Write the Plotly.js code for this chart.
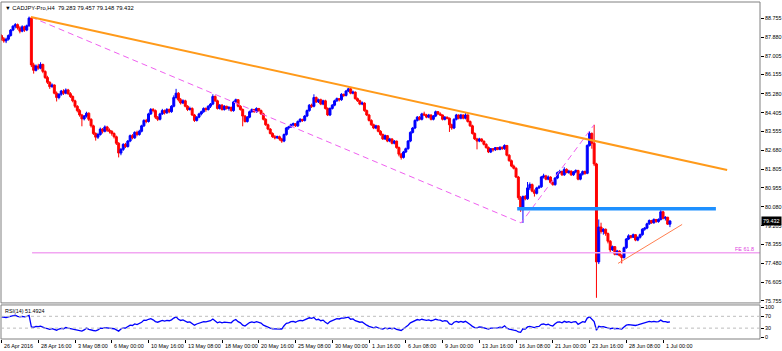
<!DOCTYPE html>
<html><head><meta charset="utf-8">
<script src="https://cdn.plot.ly/plotly-3.0.1.min.js"></script>
<style>html,body{margin:0;padding:0;background:#fff}#chart{width:782px;height:351px}</style>
</head><body><div id="chart"></div>
<script>
const symbolTitle = '\u25BC CADJPY-Pro,H4  79.283 79.457 79.148 79.432';
const rsiTitle = 'RSI(14) 51.4924';

const open = [
87.95,87.80,87.70,87.78,87.95,88.20,88.38,88.45,88.30,88.15,
88.35,88.20,88.40,88.75,86.60,86.35,86.55,86.45,86.62,86.30,
86.02,85.80,85.60,85.68,85.30,85.10,85.25,85.40,85.30,85.45,
85.28,85.15,84.95,84.70,84.50,84.30,84.12,84.25,84.38,84.10,
83.80,83.45,83.28,83.40,83.65,83.55,83.75,83.60,83.55,83.45,
83.30,83.00,82.55,82.72,82.95,82.85,83.10,83.35,83.25,83.50,
83.40,83.55,83.80,84.05,84.00,84.35,84.55,84.50,84.20,84.10,
84.35,84.50,84.40,84.55,84.45,84.70,85.10,85.30,85.00,84.85,
84.95,84.70,84.55,84.60,84.30,84.05,84.20,84.35,84.45,84.60,
84.55,84.70,84.80,85.15,84.95,84.60,84.75,84.55,84.70,84.60,
84.65,84.50,84.90,85.00,84.70,84.55,84.25,84.00,84.20,84.45,
84.55,84.45,84.60,84.50,84.35,84.10,83.85,83.65,83.45,83.30,
83.25,83.30,83.20,83.10,83.40,83.70,83.75,83.85,83.90,83.80,
84.00,84.10,84.05,84.25,84.50,84.75,84.70,85.10,84.90,85.00,
84.80,84.95,84.60,84.30,84.60,84.75,84.95,85.05,85.00,85.25,
85.20,85.40,85.50,85.30,85.35,85.05,84.95,84.80,84.85,84.50,
84.30,84.05,83.85,83.70,83.80,83.55,83.40,83.20,83.35,83.10,
83.20,83.00,83.10,82.80,82.50,82.35,82.60,82.75,83.10,83.50,
83.70,84.05,84.20,84.10,84.35,84.30,84.20,84.30,84.10,84.25,
84.45,84.35,84.30,84.10,84.20,84.15,83.85,83.70,84.10,84.30,
84.15,84.30,84.15,84.30,84.00,83.80,83.45,83.20,83.10,83.20,
83.10,82.95,82.80,82.60,82.75,82.70,82.80,82.72,82.82,82.75,
82.90,82.45,82.20,81.95,81.85,81.45,80.50,79.95,80.55,80.45,
80.95,81.10,80.80,80.70,80.95,81.00,81.45,81.50,81.35,81.45,
81.20,81.10,81.40,81.65,81.70,81.55,81.80,81.65,81.72,81.55,
81.68,81.75,81.35,81.58,81.70,81.62,82.90,83.45,83.00,82.05,
77.55,79.15,78.95,79.05,78.85,78.50,78.10,78.25,77.90,78.05,
77.85,77.75,78.20,78.60,78.75,78.68,78.80,78.55,78.68,78.80,
79.05,79.10,79.30,79.45,79.35,79.50,79.40,79.50,79.85,79.55,
79.60,79.283];

const high = [
88.00,87.88,87.85,88.00,88.25,88.42,88.52,88.50,88.38,88.42,
88.40,88.45,88.82,88.80,86.70,86.62,86.65,86.72,86.66,86.35,
86.10,85.85,85.75,85.70,85.38,85.30,85.45,85.48,85.52,85.50,
85.35,85.20,85.00,84.75,84.58,84.35,84.30,84.45,84.42,84.15,
83.85,83.50,83.48,83.72,83.70,83.82,83.80,83.68,83.60,83.50,
83.35,83.05,82.78,83.00,83.02,83.15,83.40,83.42,83.55,83.58,
83.62,83.85,84.10,84.12,84.40,84.62,84.62,84.55,84.25,84.40,
84.58,84.55,84.62,84.60,84.75,85.20,85.50,85.35,85.08,85.02,
85.00,84.75,84.68,84.65,84.35,84.25,84.40,84.50,84.65,84.65,
84.75,84.85,85.25,85.20,85.00,84.80,84.80,84.75,84.72,84.70,
84.68,84.95,85.05,85.02,84.75,84.60,84.30,84.25,84.50,84.60,
84.58,84.65,84.62,84.55,84.40,84.15,83.90,83.70,83.50,83.38,
83.35,83.35,83.25,83.45,83.75,83.80,83.90,83.95,83.92,84.05,
84.15,84.12,84.30,84.55,84.80,84.82,85.25,85.15,85.05,85.05,
85.00,85.00,84.65,84.65,84.80,85.00,85.10,85.08,85.30,85.28,
85.45,85.55,85.55,85.42,85.38,85.10,85.00,84.92,84.88,84.55,
84.35,84.10,83.90,83.85,83.82,83.60,83.45,83.40,83.38,83.25,
83.22,83.15,83.12,82.85,82.55,82.65,82.80,83.15,83.55,83.75,
84.10,84.25,84.25,84.40,84.45,84.35,84.35,84.32,84.30,84.50,
84.48,84.42,84.32,84.25,84.22,84.18,83.90,84.15,84.35,84.32,
84.35,84.32,84.38,84.32,84.05,83.85,83.50,83.25,83.25,83.22,
83.12,83.00,82.85,82.78,82.78,82.82,82.82,82.85,82.84,82.95,
82.92,82.50,82.25,82.02,81.90,81.50,80.58,80.60,80.62,81.22,
81.20,81.15,80.88,81.00,81.08,81.50,81.60,81.55,81.52,81.48,
81.25,81.45,81.70,81.78,81.75,81.90,81.85,81.78,81.75,81.72,
81.80,81.78,81.62,81.75,81.75,82.95,83.55,83.50,83.85,82.10,
79.50,79.35,79.10,79.08,78.90,78.55,78.30,78.28,78.10,78.08,
77.90,78.25,78.65,78.82,78.78,78.85,78.82,78.72,78.85,79.10,
79.15,79.35,79.50,79.48,79.55,79.52,79.55,79.98,79.90,79.65,
79.62,79.457];

const low = [
87.72,87.62,87.60,87.72,87.90,88.15,88.28,88.22,88.05,88.10,
88.12,88.15,88.35,86.50,86.20,86.30,86.38,86.40,86.22,85.95,
85.72,85.50,85.55,85.25,84.92,85.02,85.18,85.22,85.25,85.22,
85.08,84.88,84.62,84.42,84.22,83.78,84.05,84.18,84.02,83.72,
83.38,83.12,83.20,83.35,83.45,83.50,83.52,83.45,83.35,83.22,
82.92,82.35,82.45,82.65,82.78,82.80,83.05,83.18,83.20,83.32,
83.35,83.50,83.75,83.92,83.95,84.30,84.42,84.12,84.02,84.05,
84.30,84.32,84.35,84.38,84.40,84.65,85.05,84.92,84.78,84.80,
84.65,84.48,84.50,84.25,83.98,84.00,84.15,84.28,84.40,84.45,
84.50,84.62,84.75,84.90,84.55,84.55,84.50,84.50,84.55,84.50,
84.45,84.45,84.85,84.65,84.50,83.78,83.95,83.95,84.15,84.40,
84.40,84.40,84.45,84.30,84.05,83.80,83.60,83.40,83.25,83.18,
83.20,83.12,83.02,83.05,83.35,83.62,83.70,83.78,83.75,83.75,
83.95,83.98,84.00,84.20,84.45,84.62,84.65,84.85,84.85,84.75,
84.75,84.55,84.25,84.25,84.55,84.70,84.90,84.92,84.95,85.12,
85.15,85.35,85.25,85.25,85.00,84.90,84.75,84.75,84.45,84.25,
84.00,83.80,83.65,83.65,83.50,83.35,83.15,83.15,83.05,83.05,
82.95,82.95,82.75,82.40,82.25,82.30,82.55,82.70,83.05,83.45,
83.65,84.00,84.05,84.05,84.25,84.15,84.15,84.05,84.05,84.20,
84.30,84.25,84.05,84.05,84.10,83.52,83.62,83.65,84.05,84.10,
84.10,84.10,84.10,83.95,83.75,83.40,83.15,82.72,83.05,83.05,
82.90,82.75,82.55,82.55,82.62,82.65,82.68,82.68,82.70,82.70,
82.40,82.15,81.90,81.80,81.40,80.40,79.85,79.34,80.38,80.40,
80.85,80.75,80.55,80.65,80.90,80.95,81.38,81.30,81.30,81.15,
81.05,81.05,81.35,81.60,81.50,81.50,81.62,81.60,81.50,81.50,
81.62,81.30,81.30,81.52,81.55,81.58,82.85,82.75,81.95,75.90,
77.45,78.85,78.80,78.75,78.40,78.00,78.05,77.85,77.85,77.80,
77.48,77.70,78.15,78.55,78.62,78.65,78.50,78.50,78.62,78.75,
78.98,79.05,79.25,79.30,79.30,79.35,79.35,79.45,79.50,79.45,
79.25,79.148];

const close = [
87.80,87.70,87.78,87.95,88.20,88.38,88.45,88.30,88.15,88.35,
88.20,88.40,88.75,86.60,86.35,86.55,86.45,86.62,86.30,86.02,
85.80,85.60,85.68,85.30,85.10,85.25,85.40,85.30,85.45,85.28,
85.15,84.95,84.70,84.50,84.30,84.12,84.25,84.38,84.10,83.80,
83.45,83.28,83.40,83.65,83.55,83.75,83.60,83.55,83.45,83.30,
83.00,82.55,82.72,82.95,82.85,83.10,83.35,83.25,83.50,83.40,
83.55,83.80,84.05,84.00,84.35,84.55,84.50,84.20,84.10,84.35,
84.50,84.40,84.55,84.45,84.70,85.10,85.30,85.00,84.85,84.95,
84.70,84.55,84.60,84.30,84.05,84.20,84.35,84.45,84.60,84.55,
84.70,84.80,85.15,84.95,84.60,84.75,84.55,84.70,84.60,84.65,
84.50,84.90,85.00,84.70,84.55,84.25,84.00,84.20,84.45,84.55,
84.45,84.60,84.50,84.35,84.10,83.85,83.65,83.45,83.30,83.25,
83.30,83.20,83.10,83.40,83.70,83.75,83.85,83.90,83.80,84.00,
84.10,84.05,84.25,84.50,84.75,84.70,85.10,84.90,85.00,84.80,
84.95,84.60,84.30,84.60,84.75,84.95,85.05,85.00,85.25,85.20,
85.40,85.50,85.30,85.35,85.05,84.95,84.80,84.85,84.50,84.30,
84.05,83.85,83.70,83.80,83.55,83.40,83.20,83.35,83.10,83.20,
83.00,83.10,82.80,82.50,82.35,82.60,82.75,83.10,83.50,83.70,
84.05,84.20,84.10,84.35,84.30,84.20,84.30,84.10,84.25,84.45,
84.35,84.30,84.10,84.20,84.15,83.85,83.70,84.10,84.30,84.15,
84.30,84.15,84.30,84.00,83.80,83.45,83.20,83.10,83.20,83.10,
82.95,82.80,82.60,82.75,82.70,82.80,82.72,82.82,82.75,82.90,
82.45,82.20,81.95,81.85,81.45,80.50,79.95,80.55,80.45,80.95,
81.10,80.80,80.70,80.95,81.00,81.45,81.50,81.35,81.45,81.20,
81.10,81.40,81.65,81.70,81.55,81.80,81.65,81.72,81.55,81.68,
81.75,81.35,81.58,81.70,81.62,82.90,83.45,83.00,82.05,77.55,
79.15,78.95,79.05,78.85,78.50,78.10,78.25,77.90,78.05,77.85,
77.75,78.20,78.60,78.75,78.68,78.80,78.55,78.68,78.80,79.05,
79.10,79.30,79.45,79.35,79.50,79.40,79.50,79.85,79.55,79.60,
79.283,79.432];

const rsi = [
68,67,66,68,70,73,74,70,68,70,
68,70,73,34,33,36,35,37,33,30,
28,26,28,25,23,27,29,28,32,30,
28,26,24,22,21,20,24,30,26,23,
22,21,24,30,29,32,31,30,29,28,
24,20,27,31,30,35,40,39,44,42,
45,50,57,56,60,62,58,52,50,54,
56,54,56,55,58,64,68,60,56,58,
53,50,51,45,40,44,47,49,52,51,
53,55,61,55,48,51,48,50,49,50,
48,56,59,52,48,40,37,43,49,51,
49,52,50,47,40,36,33,30,28,28,
29,28,27,38,46,48,52,53,50,54,
56,55,58,62,65,63,66,58,60,55,
57,50,45,52,56,60,62,61,64,64,
66,67,60,61,55,52,50,51,44,40,
36,33,31,34,30,28,27,31,28,30,
28,30,26,23,22,28,33,40,48,52,
57,59,57,60,58,56,58,55,57,60,
58,57,53,55,54,44,42,50,53,50,
53,50,53,46,42,36,32,31,34,33,
31,29,27,30,30,32,31,33,32,38,
30,27,24,23,22,17,16,28,27,34,
36,33,32,35,36,43,44,41,43,39,
37,45,50,51,48,53,50,52,49,51,
52,43,49,52,50,64,68,60,52,23,
36,34,35,33,30,28,30,28,29,28,
27,34,40,42,41,42,39,41,43,47,
48,51,53,51,53,51,52,57,52,52,
50,51.49];

const timeTickIndex = [0,16,32,48,64,80,96,112,128,144,160,176,192,208,224,240,256,272,288];
const timeTickLabels = ['26 Apr 2016','28 Apr 16:00','3 May 08:00','6 May 00:00','10 May 16:00','13 May 08:00',
  '18 May 00:00','20 May 16:00','25 May 08:00','30 May 00:00','1 Jun 16:00','6 Jun 08:00','9 Jun 00:00',
  '13 Jun 16:00','16 Jun 08:00','21 Jun 00:00','23 Jun 16:00','28 Jun 08:00','1 Jul 00:00'];
const priceTicks = [88.755,87.880,87.005,86.155,85.280,84.405,83.555,82.680,81.805,80.955,80.080,79.205,78.355,77.480,76.605,75.755];
const rsiTicks = [100,70,30,0];
const rsiLevels = [70,30];
const lastPrice = 79.432;

// analysis drawings (bar index, price)
const resistTrendX = [12.84, 315.9], resistTrendY = [88.80, 81.77];
const feSwingX = [12.84, 226.2, 257.9], feSwingY = [88.80, 79.34, 83.84];
const fe618X = [13.3, 335], fe618Y = [77.97, 77.97];
const fe618Label = 'FE 61.8';
const blueLevelX = [224.5, 311.0], blueLevelY = [79.99, 79.99];
const supportX = [268.4, 296.3], supportY = [77.48, 79.27];

const idx = open.map((_, i) => i);
const FONT = 'Liberation Sans, Arial, sans-serif';

const traces = [
  {type:'scatter', mode:'lines', x:fe618X, y:fe618Y, xaxis:'x', yaxis:'y', line:{color:'#F2A6F2', width:1.6}, hoverinfo:'skip'},
  {type:'scatter', mode:'lines', x:feSwingX, y:feSwingY, xaxis:'x', yaxis:'y', line:{color:'#F060F0', width:1, dash:'6px,4px'}, hoverinfo:'skip'},
  {type:'candlestick', x:idx, open:open, high:high, low:low, close:close, xaxis:'x', yaxis:'y',
    increasing:{line:{color:'#0000FF', width:1}, fillcolor:'#0000FF'},
    decreasing:{line:{color:'#FF0000', width:1}, fillcolor:'#FF0000'},
    whiskerwidth:0, hoverinfo:'skip'},
  {type:'scatter', mode:'lines', x:resistTrendX, y:resistTrendY, xaxis:'x', yaxis:'y', line:{color:'#FF9A1A', width:2}, hoverinfo:'skip'},
  {type:'scatter', mode:'lines', x:blueLevelX, y:blueLevelY, xaxis:'x', yaxis:'y', line:{color:'#1E90FF', width:3.5}, hoverinfo:'skip'},
  {type:'scatter', mode:'lines', x:supportX, y:supportY, xaxis:'x', yaxis:'y', line:{color:'#FF7F50', width:1}, hoverinfo:'skip'},
  {type:'scatter', mode:'lines', x:idx, y:rsi, xaxis:'x', yaxis:'y2', line:{color:'#0000FF', width:1.3}, hoverinfo:'skip'}
];

const annotations = timeTickIndex.map((v, k) => ({
  xref:'x', yref:'paper', x:v, y:0, xanchor:'left', yanchor:'top', yshift:-2, xshift:0.5,
  text:timeTickLabels[k], showarrow:false, font:{family:FONT, size:5.4, color:'#000'}
}));
annotations.push({xref:'paper', yref:'paper', x:0, y:1, xanchor:'left', yanchor:'top', xshift:2, yshift:-1,
  text:symbolTitle, showarrow:false, font:{family:FONT, size:5.8, color:'#000'}});
annotations.push({xref:'paper', yref:'paper', x:0, y:0.101, xanchor:'left', yanchor:'top', xshift:2, yshift:-1,
  text:rsiTitle, showarrow:false, font:{family:FONT, size:5.4, color:'#000'}});
annotations.push({xref:'paper', yref:'y', x:1, y:fe618Y[0], xanchor:'right', yanchor:'bottom', xshift:-4, yshift:-1,
  text:fe618Label, showarrow:false, font:{family:FONT, size:5.4, color:'#E040E0'}});
annotations.push({xref:'paper', yref:'y', x:1, y:lastPrice, xanchor:'left', yanchor:'middle', xshift:0.5,
  text:lastPrice.toFixed(3), showarrow:false, bgcolor:'#000', borderpad:1,
  font:{family:FONT, size:5.4, color:'#fff'}});

const shapes = [
  {type:'rect', xref:'paper', yref:'paper', x0:0, x1:1, y0:0.107, y1:1, line:{color:'#808080', width:1}},
  {type:'rect', xref:'paper', yref:'paper', x0:0, x1:1, y0:0, y1:0.101, line:{color:'#808080', width:1}}
];
rsiLevels.forEach(v => shapes.push({type:'line', xref:'paper', yref:'y2', x0:0, x1:1, y0:v, y1:v,
  line:{color:'#BDBDBD', width:1, dash:'dot'}}));

const layout = {
  width:782, height:351,
  margin:{l:1, r:22, t:2, b:12, pad:0},
  paper_bgcolor:'#FFFFFF', plot_bgcolor:'#FFFFFF',
  showlegend:false, boxgap:0.15, boxgroupgap:0,
  xaxis:{range:[-0.22,330.2], domain:[0,1], anchor:'y2', showgrid:false, zeroline:false, showline:false,
    ticks:'outside', ticklen:3, tickcolor:'#000', tickvals:timeTickIndex, showticklabels:false,
    rangeslider:{visible:false}, fixedrange:true},
  yaxis:{domain:[0.107,1], anchor:'x', side:'right', range:[75.664,89.49], tickvals:priceTicks, tickformat:'.3f',
    ticks:'outside', ticklen:3, tickcolor:'#000', tickfont:{family:FONT, size:5.4, color:'#000'},
    showgrid:false, zeroline:false, showline:false, fixedrange:true},
  yaxis2:{domain:[0,0.101], anchor:'x', side:'right', range:[-6.7,108.3], tickvals:rsiTicks,
    ticks:'outside', ticklen:3, tickcolor:'#000', tickfont:{family:FONT, size:5.4, color:'#000'},
    showgrid:false, zeroline:false, showline:false, fixedrange:true},
  shapes:shapes,
  annotations:annotations
};

Plotly.newPlot('chart', traces, layout, {staticPlot:true, displayModeBar:false});
</script>
</body></html>
